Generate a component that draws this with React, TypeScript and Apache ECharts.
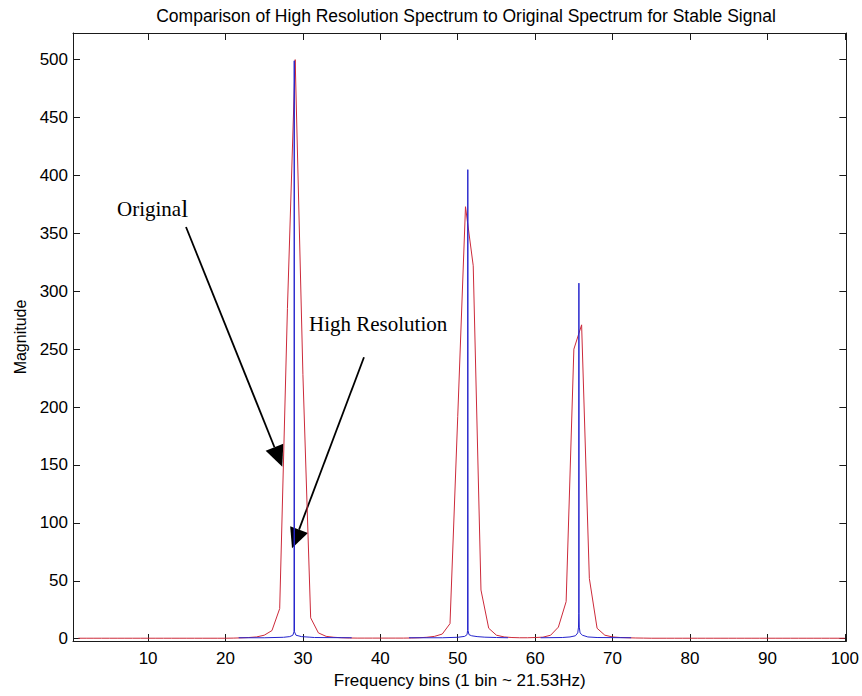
import React, { useEffect, useRef } from "react";
import * as echarts from "echarts";

const TITLE = "Comparison of High Resolution Spectrum to Original Spectrum for Stable Signal";
const X_NAME = "Frequency bins (1 bin ~ 21.53Hz)";
const Y_NAME = "Magnitude";
const LABEL_ORIGINAL = "Original";
const LABEL_HIGHRES = "High Resolution";

const xTickValues = [10, 20, 30, 40, 50, 60, 70, 80, 90, 100];
const yTickValues = [0, 50, 100, 150, 200, 250, 300, 350, 400, 450, 500];

// Original spectrum: magnitude at integer bins 1..100
const originalBins = [
  1, 2, 3, 4, 5, 6, 7, 8, 9, 10, 11, 12, 13, 14, 15, 16, 17, 18, 19, 20,
  21, 22, 23, 24, 25, 26, 27, 28, 29, 30, 31, 32, 33, 34, 35, 36, 37, 38, 39, 40,
  41, 42, 43, 44, 45, 46, 47, 48, 49, 50, 51, 52, 53, 54, 55, 56, 57, 58, 59, 60,
  61, 62, 63, 64, 65, 66, 67, 68, 69, 70, 71, 72, 73, 74, 75, 76, 77, 78, 79, 80,
  81, 82, 83, 84, 85, 86, 87, 88, 89, 90, 91, 92, 93, 94, 95, 96, 97, 98, 99, 100,
];
const originalMag = [
  0.4, 0.4, 0.4, 0.4, 0.4, 0.4, 0.4, 0.4, 0.4, 0.4, 0.4, 0.4, 0.4, 0.4, 0.4, 0.4, 0.4, 0.4, 0.4, 0.4,
  0.5, 0.7, 1, 1.5, 3, 7, 26, 285, 500, 228, 18, 5, 2, 1.2, 0.8, 0.6, 0.5, 0.5, 0.5, 0.5,
  0.5, 0.5, 0.5, 0.6, 0.8, 1.2, 2, 4, 13, 192, 373, 322, 42, 9, 3, 1.5, 1, 0.8, 0.8, 1,
  1.3, 3, 10, 32, 250, 271, 52, 9, 3, 1.5, 1, 0.8, 0.6, 0.5, 0.4, 0.4, 0.4, 0.4, 0.4, 0.4,
  0.4, 0.4, 0.4, 0.4, 0.4, 0.4, 0.4, 0.4, 0.4, 0.4, 0.4, 0.4, 0.4, 0.4, 0.4, 0.4, 0.4, 0.4, 0.4, 0.4,
];

// High resolution spectrum (three windows around the peaks; null = gap)
const highResX = [
  21.7, 25, 27.5, 28.3, 28.7, 28.85, 28.88, 28.91, 29.1, 29.8, 30.9, 31.5, 36.3, null,
  43.7, 48, 50, 50.9, 51.2, 51.27, 51.3, 51.33, 51.45, 51.8, 52.5, 53.5, 55, 56.5, null,
  60.7, 63.5, 64.5, 65.2, 65.5, 65.6, 65.63, 65.65, 65.67, 65.7, 65.8, 66.1, 66.8, 68, 72.4,
];
const highResY = [
  0.8, 0.8, 1.2, 1.8, 3, 6, 499, 6, 3, 1.8, 1.3, 1, 0.8, null,
  0.8, 0.8, 1.2, 2, 3.5, 7, 405, 7, 3.5, 2.5, 1.8, 1.3, 1, 0.8, null,
  0.8, 1, 1.5, 2.5, 5, 10, 22, 307, 22, 10, 5, 3, 1.5, 1, 0.8,
];

const SANS = "'Liberation Sans', Arial, sans-serif";
const SERIF = "'Liberation Serif', 'Times New Roman', serif";
const AXIS_COLOR = "#1a1a1a";

function arrow(x0: number, y0: number, x1: number, y1: number, headLen: number, headHalf: number) {
  const dx = x1 - x0;
  const dy = y1 - y0;
  const len = Math.sqrt(dx * dx + dy * dy);
  const ux = dx / len;
  const uy = dy / len;
  const bx = x1 - ux * headLen;
  const by = y1 - uy * headLen;
  const nx = -uy;
  const ny = ux;
  return [
    {
      type: "line",
      shape: { x1: x0, y1: y0, x2: bx, y2: by },
      style: { stroke: "#000", lineWidth: 1.8 },
      silent: true,
    },
    {
      type: "polygon",
      shape: {
        points: [
          [x1, y1],
          [bx + nx * headHalf, by + ny * headHalf],
          [bx - nx * headHalf, by - ny * headHalf],
        ],
      },
      style: { fill: "#000" },
      silent: true,
    },
  ];
}

export default function App() {
  const ref = useRef<HTMLDivElement>(null);

  useEffect(() => {
    if (!ref.current) return;
    const chart = echarts.init(ref.current, undefined, { renderer: "svg" });

    const originalData = originalBins.map((b, i) => [b, originalMag[i]]);
    const highResData = highResX.map((x, i) =>
      x === null || highResY[i] === null ? ["-", "-"] : [x, highResY[i]]
    );

    const tickCommon = {
      inside: true,
      length: 7,
      lineStyle: { color: AXIS_COLOR, width: 1 },
    };
    const lineCommon = { show: true, onZero: false, lineStyle: { color: AXIS_COLOR, width: 1 } };

    chart.setOption({
      animation: false,
      backgroundColor: "#ffffff",
      title: {
        text: TITLE,
        left: 461,
        top: 2,
        textAlign: "center",
        textStyle: { fontFamily: SANS, fontSize: 17.5, fontWeight: "normal", color: "#000" },
      },
      grid: { left: 73, right: 15, top: 33, bottom: 55, containLabel: false },
      xAxis: [
        {
          type: "value",
          position: "bottom",
          min: 0.3,
          max: 100.2,
          axisLine: lineCommon,
          axisTick: { ...tickCommon, customValues: xTickValues },
          axisLabel: {
            customValues: xTickValues,
            fontFamily: SANS,
            fontSize: 17,
            color: "#000",
            margin: 9,
          },
          splitLine: { show: false },
          name: X_NAME,
          nameLocation: "middle",
          nameGap: 31,
          nameTextStyle: { fontFamily: SANS, fontSize: 17, color: "#000" },
        },
        {
          type: "value",
          position: "top",
          min: 0.3,
          max: 100.2,
          axisLine: lineCommon,
          axisTick: { ...tickCommon, customValues: xTickValues },
          axisLabel: { show: false },
          splitLine: { show: false },
        },
      ],
      yAxis: [
        {
          type: "value",
          position: "left",
          min: -2,
          max: 523,
          axisLine: lineCommon,
          axisTick: { ...tickCommon, customValues: yTickValues },
          axisLabel: {
            customValues: yTickValues,
            fontFamily: SANS,
            fontSize: 17,
            color: "#000",
            margin: 5,
          },
          splitLine: { show: false },
          name: Y_NAME,
          nameLocation: "middle",
          nameGap: 44,
          nameRotate: 90,
          nameTextStyle: { fontFamily: SANS, fontSize: 16, color: "#000" },
        },
        {
          type: "value",
          position: "right",
          min: -2,
          max: 523,
          axisLine: lineCommon,
          axisTick: { ...tickCommon, customValues: yTickValues },
          axisLabel: { show: false },
          splitLine: { show: false },
        },
      ],
      series: [
        {
          name: LABEL_ORIGINAL,
          type: "line",
          xAxisIndex: 0,
          yAxisIndex: 0,
          data: originalData,
          showSymbol: false,
          symbol: "none",
          lineStyle: { color: "#cc2a3a", width: 1 },
          z: 2,
        },
        {
          name: LABEL_HIGHRES,
          type: "line",
          xAxisIndex: 0,
          yAxisIndex: 0,
          data: highResData,
          showSymbol: false,
          symbol: "none",
          connectNulls: false,
          lineStyle: { color: "#2424cc", width: 1 },
          z: 3,
        },
      ],
      graphic: [
        {
          type: "text",
          left: 117,
          top: 196,
          style: {
            text: "{a|Origina}{b|l}",
            rich: {
              a: { fontFamily: SERIF, fontSize: 21, fill: "#000" },
              b: { fontFamily: SERIF, fontSize: 25, fill: "#000" },
            },
          },
          silent: true,
        },
        {
          type: "text",
          left: 309,
          top: 313,
          style: {
            text: LABEL_HIGHRES,
            fontFamily: SERIF,
            fontSize: 21,
            fill: "#000",
          },
          silent: true,
        },
        ...arrow(186, 227, 282.3, 466.7, 21, 9.5),
        ...arrow(364, 357.3, 292, 548.3, 20, 9.5),
      ],
    });

    return () => chart.dispose();
  }, []);

  return (
    <div
      ref={ref}
      style={{ position: "fixed", left: 0, top: 0, width: 862, height: 696, background: "#fff" }}
    />
  );
}
